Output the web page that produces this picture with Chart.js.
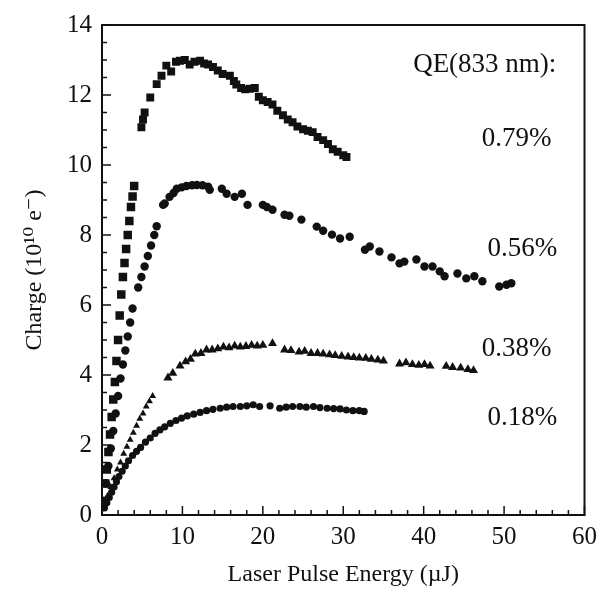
<!DOCTYPE html>
<html>
<head>
<script src="https://cdn.jsdelivr.net/npm/chart.js@4.4.0/dist/chart.umd.min.js"></script>
<style>
  body { margin: 0; background: #fff; }
  canvas { display: block; }
</style>
</head>
<body>
<canvas id="myChart" width="604" height="589"></canvas>
<script>
// QE 0.79 % (squares): steep initial run and main curve
var sqRiseX = [0.4, 0.6, 0.8, 1.0, 1.2, 1.4, 1.6, 1.8, 2.0, 2.2, 2.4, 2.6, 2.8, 3.0, 3.2, 3.4, 3.6, 3.8, 4.0];
var sqRiseY = [0.9, 1.3, 1.8, 2.3, 2.8, 3.3, 3.8, 4.4, 5.0, 5.7, 6.3, 6.8, 7.2, 7.6, 8.0, 8.4, 8.8, 9.1, 9.4];
var sqX = [4.9, 5.1, 5.3, 6.0, 6.8, 7.4, 8.0, 8.6, 9.2, 9.7, 10.3, 10.9, 11.5, 12.2, 12.7, 13.2, 13.8, 14.4, 15.0, 15.9, 16.4, 16.7, 17.3, 17.8, 18.4, 19.0, 19.5, 20.0, 20.6, 21.2, 21.8, 22.5, 23.1, 23.7, 24.3, 25.0, 25.6, 26.2, 26.8, 27.5, 28.1, 28.7, 29.3, 30.0, 30.4];
var sqY = [11.08, 11.3, 11.5, 11.93, 12.31, 12.55, 12.84, 12.67, 12.95, 12.98, 13.0, 12.87, 12.95, 12.98, 12.9, 12.87, 12.8, 12.7, 12.6, 12.55, 12.4, 12.3, 12.2, 12.16, 12.18, 12.2, 11.95, 11.85, 11.8, 11.73, 11.55, 11.42, 11.3, 11.22, 11.1, 11.02, 10.98, 10.94, 10.8, 10.71, 10.6, 10.45, 10.38, 10.28, 10.23];

// QE 0.56 % (circles)
var ciRiseX = [0.2, 0.5, 0.8, 1.1, 1.4, 1.7, 2.0, 2.3, 2.6, 2.9, 3.2, 3.5, 3.8, 4.5, 4.9, 5.3, 5.7, 6.1, 6.5, 6.8];
var ciRiseY = [0.4, 0.9, 1.4, 1.9, 2.4, 2.9, 3.4, 3.9, 4.3, 4.7, 5.1, 5.5, 5.9, 6.5, 6.8, 7.1, 7.4, 7.7, 8.0, 8.25];
var ciX = [7.6, 7.8, 8.4, 8.9, 9.3, 9.9, 10.5, 11.2, 11.8, 12.5, 13.2, 13.4, 14.9, 15.5, 16.5, 17.4, 18.1, 20.0, 20.5, 21.2, 22.7, 23.3, 24.8, 26.7, 27.5, 28.6, 29.6, 30.8, 32.7, 33.3, 34.5, 36.0, 37.0, 37.6, 39.1, 40.1, 41.1, 42.0, 42.6, 44.2, 45.3, 46.3, 47.3, 49.4, 50.3, 50.9];
var ciY = [8.86, 8.9, 9.09, 9.2, 9.32, 9.36, 9.4, 9.42, 9.43, 9.42, 9.38, 9.29, 9.32, 9.18, 9.09, 9.18, 8.86, 8.86, 8.8, 8.72, 8.58, 8.55, 8.44, 8.24, 8.12, 8.01, 7.9, 7.95, 7.58, 7.67, 7.53, 7.36, 7.19, 7.24, 7.3, 7.1, 7.1, 6.96, 6.82, 6.9, 6.76, 6.82, 6.68, 6.53, 6.58, 6.62];

// QE 0.38 % (triangles)
var trRiseX = [0.3, 0.7, 1.1, 1.5, 1.9, 2.3, 2.7, 3.1, 3.5, 3.9, 4.3, 4.7, 5.1, 5.5, 5.9, 6.3];
var trRiseY = [0.3, 0.55, 0.8, 1.05, 1.3, 1.5, 1.75, 1.95, 2.15, 2.35, 2.55, 2.75, 2.9, 3.1, 3.25, 3.4];
var trX = [8.2, 8.8, 9.7, 10.4, 11.0, 11.6, 12.3, 13.0, 13.7, 14.4, 15.1, 15.8, 16.5, 17.2, 17.9, 18.6, 19.3, 20.0, 21.2, 22.7, 23.5, 24.5, 25.2, 26.0, 26.8, 27.5, 28.3, 29.0, 29.8, 30.6, 31.3, 32.0, 32.8, 33.5, 34.3, 35.0, 37.0, 37.8, 38.6, 39.4, 40.1, 40.8, 42.8, 43.6, 44.6, 45.5, 46.2];
var trY = [3.92, 4.05, 4.26, 4.38, 4.45, 4.6, 4.62, 4.72, 4.72, 4.75, 4.8, 4.78, 4.83, 4.8, 4.82, 4.85, 4.83, 4.85, 4.9, 4.72, 4.7, 4.66, 4.68, 4.62, 4.62, 4.6, 4.58, 4.56, 4.54, 4.52, 4.5, 4.49, 4.48, 4.45, 4.43, 4.4, 4.32, 4.35, 4.3, 4.28, 4.3, 4.26, 4.25, 4.22, 4.2, 4.16, 4.13];

// QE 0.18 % (small circles)
var loX = [0.3, 0.6, 0.9, 1.2, 1.5, 1.8, 2.1, 2.5, 2.9, 3.3, 3.8, 4.3, 4.8, 5.4, 6.0, 6.6, 7.2, 7.8, 8.5, 9.2, 9.9, 10.6, 11.4, 12.2, 13.0, 13.8, 14.7, 15.5, 16.3, 17.2, 18.0, 18.8, 19.6, 20.9, 22.1, 22.9, 23.7, 24.6, 25.4, 26.3, 27.1, 28.0, 28.8, 29.6, 30.4, 31.2, 32.0, 32.6];
var loY = [0.2, 0.35, 0.5, 0.65, 0.8, 0.95, 1.1, 1.25, 1.4, 1.55, 1.7, 1.82, 1.93, 2.08, 2.2, 2.33, 2.43, 2.52, 2.62, 2.7, 2.77, 2.83, 2.88, 2.93, 2.98, 3.02, 3.05, 3.08, 3.1, 3.1, 3.12, 3.15, 3.1, 3.12, 3.05, 3.08, 3.1, 3.1, 3.08, 3.1, 3.07, 3.05, 3.04, 3.03, 3.0, 2.98, 2.98, 2.96];

// labels drawn in data coordinates (right edge, vertical middle)
var noteText = ["QE(833 nm):", "0.79%", "0.56%", "0.38%", "0.18%"];
var noteX = [56.5, 55.9, 56.6, 55.9, 56.6];
var noteY = [12.87, 10.74, 7.6, 4.74, 2.78];

var xTicks = [0, 10, 20, 30, 40, 50, 60];
var yTicks = [0, 2, 4, 6, 8, 10, 12, 14];

function pts(xs, ys) {
    return xs.map(function(x, i) { return {x: x, y: ys[i]}; });
}

function series(xs, ys, style, r) {
    return {
        data: pts(xs, ys),
        pointStyle: style,
        pointRadius: r,
        backgroundColor: "#111",
        borderColor: "#111",
        borderWidth: 0,
        showLine: false
    };
}

var serif = "'Liberation Serif', 'DejaVu Serif', serif";

// frame, inward tick marks and the QE notes
var framePlugin = {
    id: "frame",
    afterDraw: function(chart) {
        var c = chart.ctx, a = chart.chartArea;
        var sx = chart.scales.x, sy = chart.scales.y;
        c.save();
        c.strokeStyle = "#111";
        c.lineWidth = 2;
        c.strokeRect(a.left, a.top, a.right - a.left, a.bottom - a.top);
        c.lineWidth = 1.5;
        c.beginPath();
        for (var x = 0; x <= 60; x += 2) {
            var px = sx.getPixelForValue(x);
            var len = x % 10 === 0 ? 9 : 5;
            c.moveTo(px, a.bottom);
            c.lineTo(px, a.bottom - len);
        }
        for (var y = 0; y <= 14; y += 0.5) {
            var py = sy.getPixelForValue(y);
            var l2 = y % 2 === 0 ? 9 : 5;
            c.moveTo(a.left, py);
            c.lineTo(a.left + l2, py);
        }
        c.stroke();
        c.fillStyle = "#111";
        c.font = "27px " + serif;
        c.textAlign = "right";
        c.textBaseline = "middle";
        noteText.forEach(function(t, i) {
            c.fillText(t, sx.getPixelForValue(noteX[i]), sy.getPixelForValue(noteY[i]));
        });
        c.restore();
    }
};

new Chart(document.getElementById("myChart").getContext("2d"), {
    type: "scatter",
    data: {
        datasets: [
            series(sqRiseX, sqRiseY, "rect", 6),
            series(sqX, sqY, "rect", 5.6),
            series(ciRiseX, ciRiseY, "circle", 4.2),
            series(ciX, ciY, "circle", 4.2),
            series(trRiseX, trRiseY, "triangle", 4),
            series(trX, trY, "triangle", 5.2),
            series(loX, loY, "circle", 3.6)
        ]
    },
    options: {
        responsive: false,
        animation: false,
        layout: { padding: { left: 0, right: 19, top: 22, bottom: 0 } },
        plugins: {
            legend: { display: false },
            tooltip: { enabled: false }
        },
        scales: {
            x: {
                type: "linear",
                min: 0,
                max: 60,
                afterBuildTicks: function(s) { s.ticks = xTicks.map(function(v) { return {value: v}; }); },
                afterFit: function(s) { s.height = 74; },
                grid: { display: false, drawTicks: false },
                border: { display: false },
                ticks: { color: "#111", padding: 7, font: { family: serif, size: 25 } },
                title: {
                    display: true,
                    text: "Laser Pulse Energy (\u00b5J)",
                    color: "#111",
                    padding: { top: 0, bottom: 0 },
                    font: { family: serif, size: 24 }
                }
            },
            y: {
                type: "linear",
                min: 0,
                max: 14,
                afterBuildTicks: function(s) { s.ticks = yTicks.map(function(v) { return {value: v}; }); },
                afterFit: function(s) { s.width = 102; },
                grid: { display: false, drawTicks: false },
                border: { display: false },
                ticks: { color: "#111", padding: 10, font: { family: serif, size: 25 } },
                title: {
                    display: true,
                    text: "Charge (10\u00b9\u2070 e\u207b)",
                    color: "#111",
                    padding: { top: 20, bottom: 0 },
                    font: { family: serif, size: 24 }
                }
            }
        }
    },
    plugins: [framePlugin]
});
</script>
</body>
</html>
